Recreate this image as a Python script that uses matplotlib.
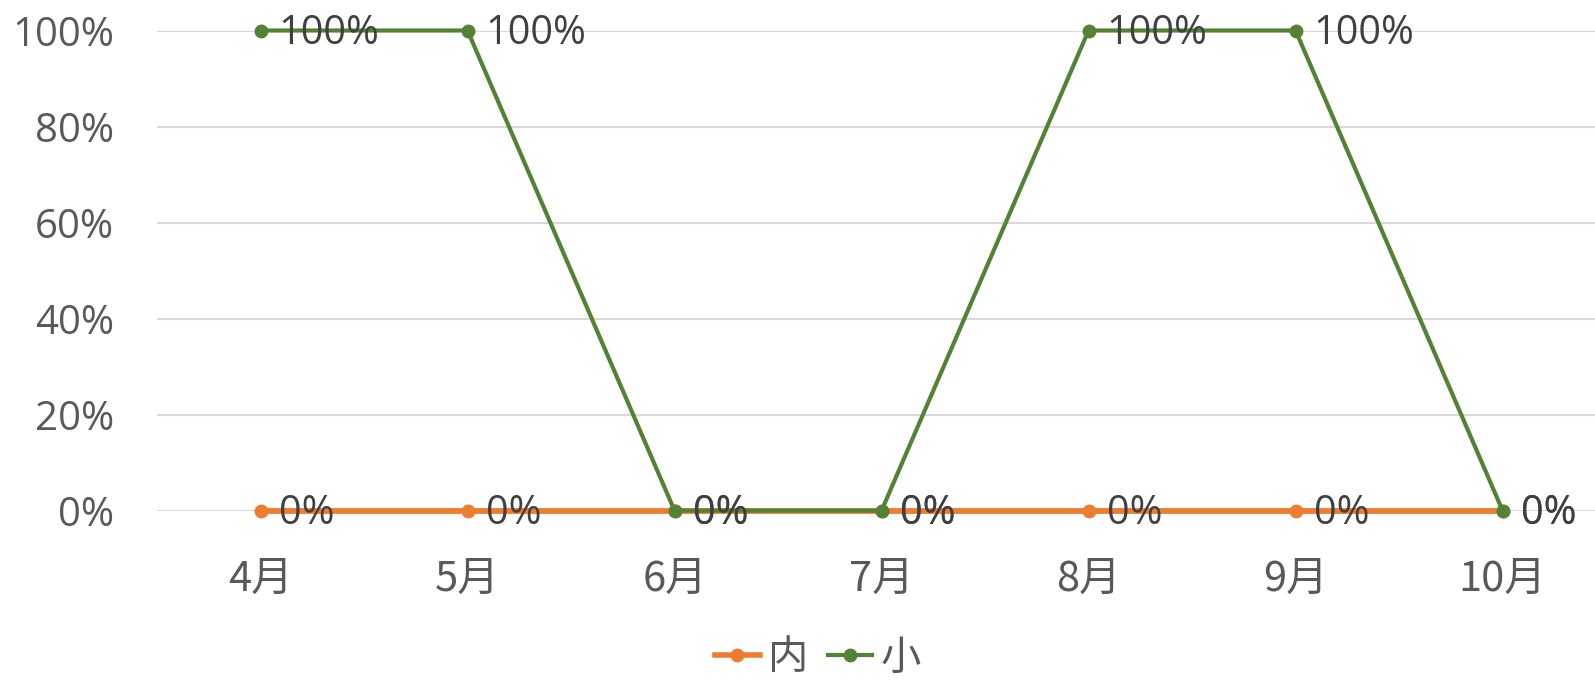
import matplotlib
matplotlib.use("Agg")
import matplotlib.pyplot as plt
from matplotlib.ticker import PercentFormatter
from matplotlib.lines import Line2D

plt.rcParams['font.family'] = ['Noto Sans CJK SC', 'DejaVu Sans']

months = ["4月", "5月", "6月", "7月", "8月", "9月", "10月"]
series_nei = [0, 0, 0, 0, 0, 0, 0]
series_xiao = [1, 1, 0, 0, 1, 1, 0]
yticks = [0, 0.2, 0.4, 0.6, 0.8, 1.0]

ORANGE = "#ED7D31"
GREEN = "#548235"
TEXT = "#595959"
GRID = "#D9D9D9"

W, H = 1595, 680
fig = plt.figure(figsize=(W / 100, H / 100), dpi=100)
left, right = 157 / W, 1.0
bottom, top = (H - 510.6) / H, (H - 30.5) / H
ax = fig.add_axes([left, bottom, right - left, top - bottom])

x = list(range(len(months)))
ax.plot(x, series_nei, color=ORANGE, lw=4.2, marker="o", ms=9,
        clip_on=False, zorder=3, solid_capstyle="round")
ax.plot(x, series_xiao, color=GREEN, lw=3.0, marker="o", ms=9,
        clip_on=False, zorder=4, solid_capstyle="round")

for series in (series_nei, series_xiao):
    for xi, v in zip(x, series):
        ax.annotate(f"{v:.0%}", (xi, v), xytext=(13, -2), textcoords="offset points",
                    ha="left", va="center", fontsize=28.5, color="#404040", zorder=5,
                    family=['Open Sans', 'DejaVu Sans'])

ax.set_xlim(-0.5, (W - 260.6) / 207)
ax.set_ylim(0, 1)
ax.set_yticks(yticks)
ax.yaxis.set_major_formatter(PercentFormatter(1.0, decimals=0))
ax.set_xticks(x)
ax.set_xticklabels(months)

for lab in ax.get_yticklabels():
    lab.set_family(['Open Sans', 'DejaVu Sans'])
    lab.set_fontsize(29)

ax.tick_params(axis="both", length=0, labelcolor=TEXT)
ax.tick_params(axis="x", labelsize=30, pad=35)
ax.tick_params(axis="y", pad=31)
ax.grid(axis="y", color=GRID, lw=1.5)
ax.set_axisbelow(True)
for s in ax.spines.values():
    s.set_visible(False)

handles = [
    Line2D([], [], color=ORANGE, lw=4, marker="o", ms=9),
    Line2D([], [], color=GREEN, lw=3, marker="o", ms=9),
]
fig.legend(handles, ["内", "小"], loc="center", bbox_to_anchor=(818 / W, (H - 658) / H),
           ncol=2, frameon=False, fontsize=29, labelcolor=TEXT, handlelength=1.1,
           handletextpad=0.2, columnspacing=0.5, borderpad=0.1)

fig.savefig("out.png", dpi=100)
